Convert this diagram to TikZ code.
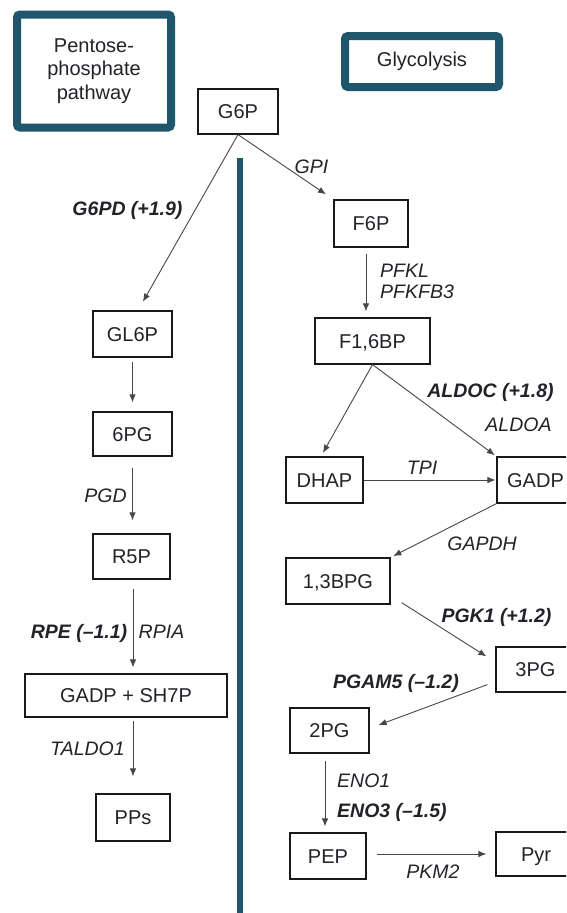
\documentclass[tikz,border=0pt]{standalone}
\usepackage{fontspec}
\setmainfont{Liberation Sans}
\usetikzlibrary{arrows.meta,calc}
\definecolor{tealb}{RGB}{31,86,107}
\definecolor{txt}{RGB}{34,34,40}
\begin{document}
\begin{tikzpicture}[x=1pt,y=-1pt,
  box/.style={draw=black!90, line width=1.2pt, inner sep=0pt, text height=14.3pt, text depth=0pt, font=\fontsize{20}{24}\selectfont, text=txt},
  lbl/.style={inner sep=0pt, text height=14.3pt, text depth=0pt, font=\fontsize{19.5}{24}\selectfont\itshape, text=txt},
  blbl/.style={lbl, font=\fontsize{19.5}{24}\selectfont\bfseries\itshape},
  arr/.style={draw=black!72, line width=0.9pt, -{Latex[length=8pt,width=6.5pt]}},
  titlebox/.style={draw=tealb, line width=8pt, rounded corners=3pt, inner sep=0pt, align=center, font=\fontsize{20}{23.5}\selectfont, text=txt}
]
\useasboundingbox (0,0) rectangle (566,913);
\clip (0,0) rectangle (566,913);
\fill[white] (0,0) rectangle (566,913);

% title boxes
\node[titlebox, minimum width=154pt, minimum height=113pt] (ppp) at (94,71) {Pentose-\\phosphate\\pathway};
\node[titlebox, minimum width=154pt, minimum height=51pt] (gly) at (422,61.5) {Glycolysis};

% divider
\coordinate (divtop) at (240,158);
\coordinate (divbot) at (240,913);
\draw[tealb, line width=6.5pt] (divtop) -- (divbot);

% boxes
\node[box, minimum width=80pt, minimum height=45pt] (g6p) at (238,111.5) {G6P};
\node[box, minimum width=79pt, minimum height=46pt] (gl6p) at (132.5,334) {GL6P};
\node[box, minimum width=79pt, minimum height=44pt] (pg6) at (132.5,434) {6PG};
\node[box, minimum width=77pt, minimum height=45pt] (r5p) at (131.5,556.5) {R5P};
\node[box, minimum width=202pt, minimum height=43pt] (sh7p) at (126,695.5) {GADP + SH7P};
\node[box, minimum width=74pt, minimum height=47pt] (pps) at (133,817.5) {PPs};

\node[box, minimum width=74pt, minimum height=47pt] (f6p) at (371,223.5) {F6P};
\node[box, minimum width=115pt, minimum height=46pt] (f16bp) at (372.5,341) {F1,6BP};
\node[box, minimum width=77pt, minimum height=46pt] (dhap) at (324.5,480) {DHAP};
\node[box, minimum width=77pt, minimum height=46pt] (gadp) at (535.5,480) {GADP};
\node[box, minimum width=104pt, minimum height=46pt] (bpg13) at (338,581) {1,3BPG};
\node[box, minimum width=79pt, minimum height=45pt] (pg3) at (535.5,669.5) {3PG};
\node[box, minimum width=79pt, minimum height=45pt] (pg2) at (329.5,730.5) {2PG};
\node[box, minimum width=76pt, minimum height=46pt] (pep) at (328,856) {PEP};
\node[box, minimum width=80pt, minimum height=44pt] (pyr) at (536,854) {Pyr};

% arrows, pentose phosphate pathway
\draw[arr, shorten >=10pt] (g6p.south) -- ($(gl6p.north)+(5.5,0)$);
\draw[arr, shorten <=4pt, shorten >=9pt] (gl6p.south) -- (gl6p.south |- pg6.north);
\draw[arr, shorten <=11pt, shorten >=13pt] (pg6.south) -- (pg6.south |- r5p.north);
\draw[arr, shorten <=9pt, shorten >=6pt] ($(r5p.south)+(1.5,0)$) -- ($(r5p.south |- sh7p.north)+(1.5,0)$);
\draw[arr, shorten <=3pt, shorten >=17pt] (sh7p.south -| pps.north) -- (pps.north);

% arrows, glycolysis
\draw[arr, shorten >=9pt] (g6p.south) -- (f6p.north west);
\draw[arr, shorten <=6pt, shorten >=6pt] ($(f6p.south)+(-5,0)$) -- ($(f6p.south |- f16bp.north)+(-5,0)$);
\draw[arr, shorten >=4pt] (f16bp.south) -- ($(dhap.north)+(-3.5,0)$);
\draw[arr, shorten >=2pt] (f16bp.south) -- (gadp.north west);
\draw[arr, shorten >=1pt] (dhap.east) -- (gadp.west);
\draw[arr, shorten >=3pt] (gadp.south west) -- (bpg13.north east);
\draw[arr] ($(bpg13.south east)+(11,-2)$) -- ($(pg3.north west)+(-9,10)$);
\draw[arr] ($(pg3.south west)+(-8,-8)$) -- ($(pg2.east)+(9,-5.5)$);
\draw[arr, shorten <=7pt, shorten >=6pt] ($(pg2.south)+(-4.5,0)$) -- ($(pg2.south |- pep.north)+(-4.5,0)$);
\draw[arr, shorten <=10pt, shorten >=9pt] (pep.east |- pyr.west) -- (pyr.west);

% labels
\node[blbl] (lg6pd) at (127.5,208.5) {G6PD (+1.9)};
\node[lbl] (lpgd) at (105.5,495) {PGD};
\node[blbl] (lrpe) at (79,631.5) {RPE (–1.1)};
\node[lbl] (lrpia) at (161.5,631.5) {RPIA};
\node[lbl] (ltaldo) at (87.5,748.5) {TALDO1};

\node[lbl] (lgpi) at (311.5,166.5) {GPI};
\node[lbl, anchor=west] (lpfkl) at (380,270) {PFKL};
\node[lbl, anchor=west] (lpfkfb) at (380,291.5) {PFKFB3};
\node[blbl] (laldoc) at (490.5,390) {ALDOC (+1.8)};
\node[lbl] (laldoa) at (518.5,424) {ALDOA};
\node[lbl] (ltpi) at (422,467.5) {TPI};
\node[lbl] (lgapdh) at (482,543) {GAPDH};
\node[blbl] (lpgk) at (496.5,615) {PGK1 (+1.2)};
\node[blbl] (lpgam) at (396,681.5) {PGAM5 (–1.2)};
\node[lbl, anchor=west] (leno1) at (337,780) {ENO1};
\node[blbl, anchor=west] (leno3) at (337,810) {ENO3 (–1.5)};
\node[lbl] (lpkm) at (433,871.5) {PKM2};
\end{tikzpicture}
\end{document}
